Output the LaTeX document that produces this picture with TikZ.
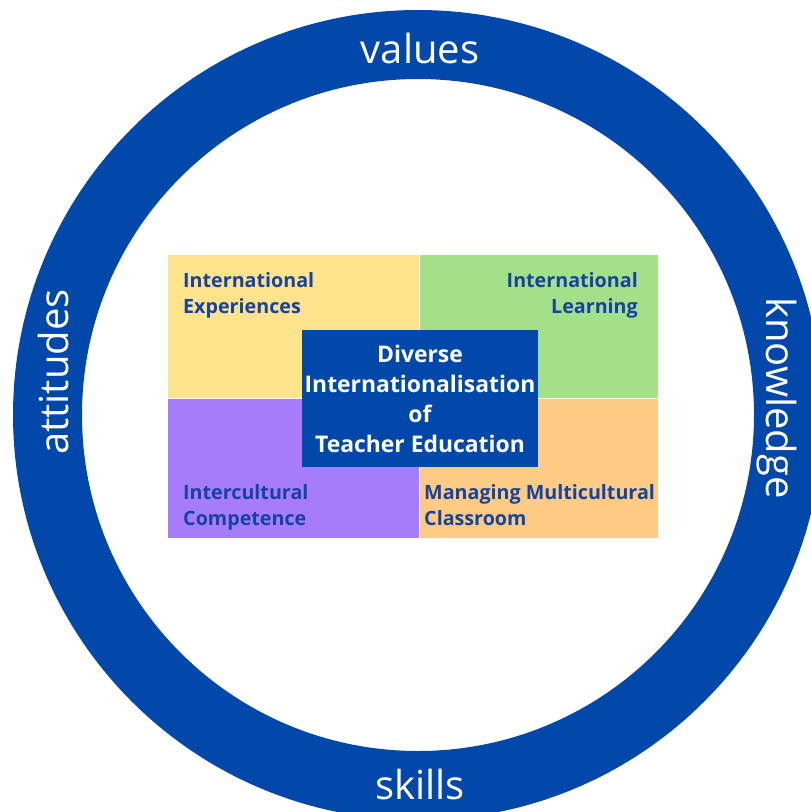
\documentclass[tikz,border=0pt]{standalone}
\usepackage{fontspec}
\setmainfont{Open Sans}
\usetikzlibrary{positioning}
\definecolor{ringblue}{RGB}{2,72,171}
\definecolor{textblue}{RGB}{22,66,160}
\definecolor{qyellow}{RGB}{253,228,140}
\definecolor{qgreen}{RGB}{163,224,138}
\definecolor{qpurple}{RGB}{166,124,252}
\definecolor{qorange}{RGB}{253,203,132}
\tikzset{
  quad/.style={rectangle, draw=white, line width=1pt, inner sep=0pt, outer sep=0pt},
  quadtext/.style={font=\bfseries\fontsize{19.7}{26}\selectfont, text=textblue, inner sep=0pt},
  ringtext/.style={font=\fontsize{40}{42}\selectfont, text=white},
}
\begin{document}
\begin{tikzpicture}[x=1pt,y=-1pt]
\useasboundingbox (0,0) rectangle (811,812);
% ring
\fill[ringblue,even odd rule] (418,415) circle (405pt) (418,415) circle (336pt);
\node[ringtext] (values) at (420,48) {values};
\node[ringtext] (skills) at (420,784) {skills};
\node[ringtext,rotate=90] (attitudes) at (53,372) {attitudes};
\node[ringtext,rotate=-90] (knowledge) at (777,398) {knowledge};
% quadrants
\node[quad,fill=qyellow,minimum width=252pt,minimum height=144pt] (exper) at (293,326) {};
\node[quad,fill=qgreen,minimum width=239pt,minimum height=144pt,right=0pt of exper] (learn) {};
\node[quad,fill=qpurple,minimum width=252pt,minimum height=140pt,below=0pt of exper] (compet) {};
\node[quad,fill=qorange,minimum width=239pt,minimum height=140pt,below=0pt of learn] (manage) {};
\node[quadtext,anchor=north west,align=left] (experlbl) at ([xshift=16pt,yshift=-18pt]exper.north west) {International\\Experiences};
\node[quadtext,anchor=north east,align=right] (learnlbl) at ([xshift=-20pt,yshift=-18pt]learn.north east) {International\\Learning};
\node[quadtext,anchor=north west,align=left] (competlbl) at ([xshift=16pt,yshift=-86pt]compet.north west) {Intercultural\\Competence};
\node[quadtext,anchor=north west,align=left] (managelbl) at ([xshift=5pt,yshift=-86pt]manage.north west) {Managing Multicultural\\Classroom};
% centre
\node[fill=ringblue,minimum width=236pt,minimum height=137pt,inner sep=0pt,align=center,text=white,font=\bfseries\fontsize{22.9}{30}\selectfont] (core) at (420,398.5) {Diverse\\Internationalisation\\of\\Teacher Education};
\end{tikzpicture}
\end{document}
